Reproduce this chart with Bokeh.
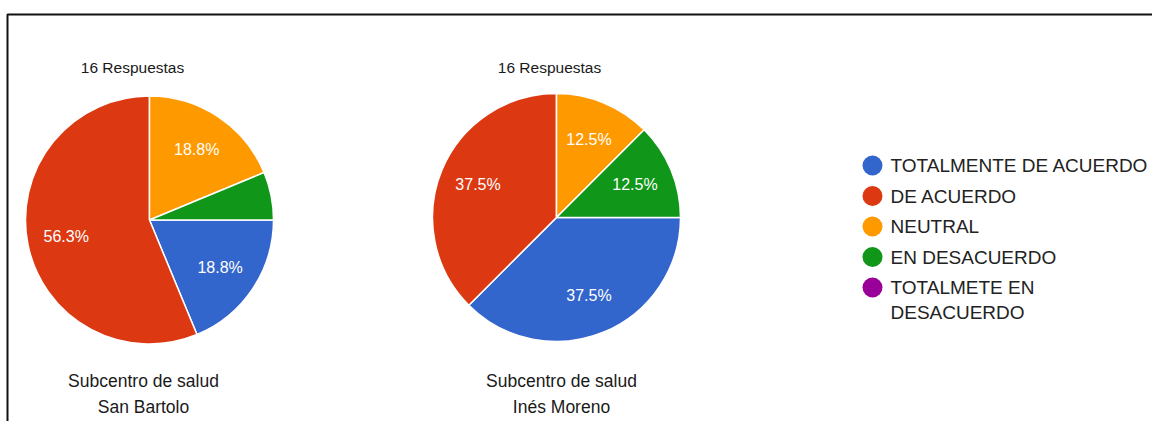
import math
from bokeh.plotting import figure
from bokeh.models import Range1d, ColumnDataSource
from bokeh.core.properties import value
from bokeh.embed import file_html
from bokeh.resources import INLINE

# ---- data ----
categories = ["TOTALMENTE DE ACUERDO", "DE ACUERDO", "NEUTRAL", "EN DESACUERDO",
              "TOTALMETE EN\nDESACUERDO"]
colors = ["#3366CC", "#DC3912", "#FF9900", "#109618", "#990099"]
san_bartolo = [3, 9, 3, 1, 0]
ines_moreno = [6, 6, 2, 2, 0]
chart_titles = ["Subcentro de salud\nSan Bartolo", "Subcentro de salud\nInés Moreno"]
response_labels = ["16 Respuestas", "16 Respuestas"]

FONT = value("Liberation Sans")
W, H = 1152, 421
# data coords: x = pixel x, y = 437 - pixel y
p = figure(width=W, height=H, x_range=Range1d(0, W), y_range=Range1d(437 - H, 437),
           output_backend="svg", toolbar_location=None, min_border=0)
p.axis.visible = False
p.grid.visible = False
p.outline_line_color = None
p.background_fill_color = "white"
p.border_fill_color = "white"

# frame lines (top and left of the enclosing box)
p.line(x=[7, 7, W], y=[0, 423, 423], line_color="#111111", line_width=2)


def fmt_pct(x):
    return "%.1f%%" % (math.floor(x * 10 + 0.5) / 10)


def draw_pie(vals, cx, cy, r, resp_xy, title_xy, resp_text, title_text):
    total = float(sum(vals))
    starts, ends, cols, lx, ly, lt = [], [], [], [], [], []
    cum = 0.0
    for v, c in zip(vals, colors):
        if v == 0:
            continue
        a0 = -cum / total * 2 * math.pi
        a1 = -(cum + v) / total * 2 * math.pi
        starts.append(a0)
        ends.append(a1)
        cols.append(c)
        share = v / total
        if share >= 0.1:
            mid = (a0 + a1) / 2
            lx.append(cx + 0.685 * r * math.cos(mid))
            ly.append(cy + 0.685 * r * math.sin(mid))
            lt.append(fmt_pct(share * 100))
        cum += v
    src = ColumnDataSource(dict(start=starts, end=ends, color=cols))
    p.wedge(x=cx, y=cy, radius=r, radius_units="screen", start_angle="start",
            end_angle="end", direction="clock", fill_color="color",
            line_color="white", line_width=1.5, source=src)
    p.text(x=lx, y=ly, text=lt, text_color="white", text_font=FONT,
           text_font_size="16px", text_align="center", text_baseline="middle")
    p.text(x=[resp_xy[0]], y=[resp_xy[1]], text=[resp_text], text_color="#1a1a1a",
           text_font=FONT, text_font_size="15.5px", text_align="center",
           text_baseline="middle")
    lines = title_text.split("\n")
    p.text(x=[title_xy[0]] * len(lines), y=[title_xy[1] - 26 * i for i in range(len(lines))],
           text=lines, text_color="#1a1a1a", text_font=FONT, text_font_size="17.5px",
           text_align="center", text_baseline="middle")


draw_pie(san_bartolo, 149, 217.5, 124, (132, 370), (143, 57), response_labels[0], chart_titles[0])
draw_pie(ines_moreno, 556, 220, 124, (549, 370), (561, 57), response_labels[1], chart_titles[1])

# legend
leg_x, leg_y, leg_dy = 872, 272, 30.5
cx_, cy_, cc_ = [], [], []
tx, ty, tt = [], [], []
for i, (cat, col) in enumerate(zip(categories, colors)):
    y = leg_y - i * leg_dy
    cx_.append(leg_x)
    cy_.append(y)
    cc_.append(col)
    for j, line in enumerate(cat.split("\n")):
        tx.append(leg_x + 18)
        ty.append(y - 25 * j)
        tt.append(line)
p.scatter(x=cx_, y=cy_, size=20, fill_color=cc_, line_color=None, marker="circle")
p.text(x=tx, y=ty, text=tt, text_color="#222222", text_font=FONT, text_font_size="19px",
       text_align="left", text_baseline="middle")

open("out.html", "w").write(file_html(p, INLINE))
